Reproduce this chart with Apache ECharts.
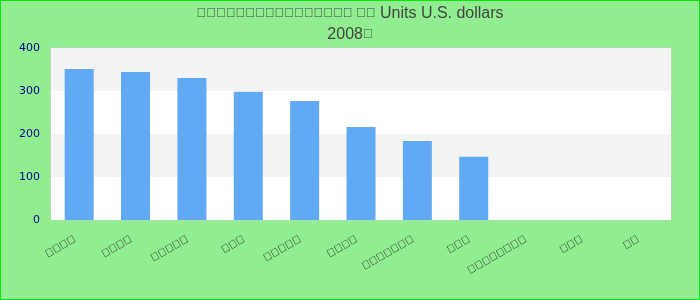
<!DOCTYPE html>
<html><head><meta charset="utf-8">
<script src="https://cdn.jsdelivr.net/npm/echarts@6/dist/echarts.min.js"></script>
<style>html,body{margin:0;padding:0;background:#90ee90;}#c{width:700px;height:300px;outline:1px solid #11e011;outline-offset:-1px;}</style>
</head><body><div id="c"></div>
<script>
// Original glyphs are unreadable in the reference (rendered as missing-glyph boxes)
var T = '\uE000';
function boxes(n){ return T.repeat(n); }
var titleText = '{b|' + boxes(16) + ' ' + boxes(2) + '} Units U.S. dollars\n2008{b|' + boxes(1) + '}';
var categories = [boxes(4), boxes(4), boxes(5), boxes(3), boxes(5), boxes(4), boxes(7), boxes(3), boxes(8), boxes(3), boxes(2)];
var values = [351, 344, 330, 298, 277, 216, 184, 147, 0, 0, 0];
var yTicks = [0, 100, 200, 300, 400];

var chart = echarts.init(document.getElementById('c'), null, {renderer: 'canvas'});
chart.setOption({
  backgroundColor: 'transparent',
  animation: false,
  title: {
    text: titleText,
    left: 'center',
    top: -2,
    textStyle: {
      color: '#444', fontSize: 16, fontWeight: 'normal', fontFamily: 'Liberation Sans, Arial, sans-serif', lineHeight: 21,
      rich: {b: {fontSize: 13, color: '#444', fontFamily: 'Liberation Sans, Arial, sans-serif', lineHeight: 21}}
    }
  },
  grid: {left: 51, right: 29, top: 48, bottom: 80, show: true, backgroundColor: '#fff', borderColor: '#ccc', borderWidth: 1},
  xAxis: {
    type: 'category',
    data: categories,
    axisLine: {show: false},
    axisTick: {show: false},
    axisLabel: {rotate: 30, interval: 0, color: '#222', fontSize: 11, margin: 16, padding: [0, 5, 0, 0], fontFamily: 'Liberation Sans, Arial, sans-serif'}
  },
  yAxis: {
    type: 'value',
    min: yTicks[0],
    max: yTicks[yTicks.length - 1],
    interval: 100,
    axisLine: {show: false},
    axisTick: {show: false},
    splitLine: {show: false},
    splitArea: {show: true, areaStyle: {color: ['#ffffff', '#f3f3f3']}},
    axisLabel: {color: '#00008b', fontSize: 11, margin: 11, fontFamily: 'DejaVu Sans'}
  },
  series: [{
    type: 'bar',
    data: values,
    barWidth: 29,
    itemStyle: {color: '#61a8f5'}
  }]
});
</script>
</body></html>
